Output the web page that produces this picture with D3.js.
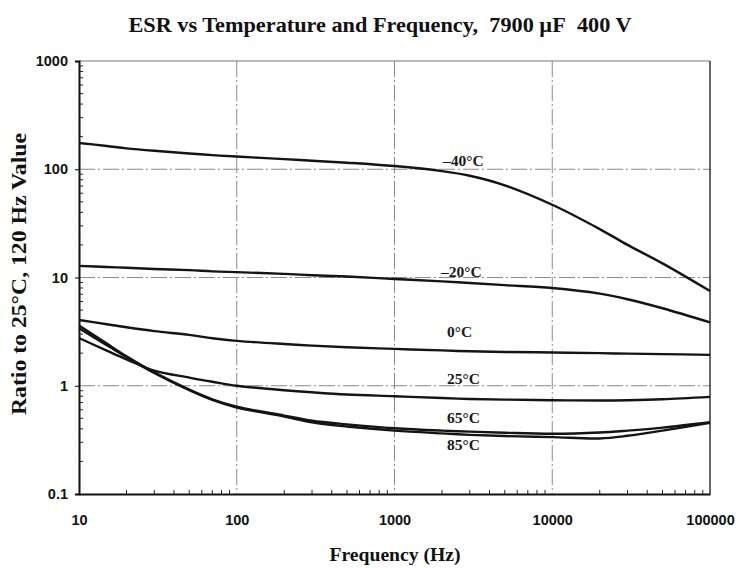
<!DOCTYPE html>
<html>
<head>
<meta charset="utf-8">
<script src="https://cdnjs.cloudflare.com/ajax/libs/d3/7.8.5/d3.min.js"></script>
<style>
body { margin: 0; background: #fff; }
svg { display: block; }
.serif { font-family: "Liberation Serif", "Times New Roman", serif; font-weight: bold; }
.tick-lbl { font-family: "Liberation Sans", Arial, sans-serif; font-weight: bold; font-size: 14.5px; }
</style>
</head>
<body>
<div id="chart"></div>
<script>
// frequencies (Hz)
var freqs = [10, 15, 20, 30, 50, 70, 100, 200, 300, 500, 1000, 2000, 3000, 5000, 10000, 20000, 30000, 50000, 100000];

// ratio to 25°C, 120 Hz value, one array per temperature
var m40 = [175, 164, 156, 148, 140, 135, 131, 124, 120, 115, 107, 96, 87, 71, 47, 28, 20, 13.5, 7.5];
var m20 = [12.8, 12.5, 12.3, 12.0, 11.7, 11.4, 11.2, 10.8, 10.5, 10.2, 9.7, 9.2, 8.9, 8.5, 8.0, 7.1, 6.3, 5.2, 3.85];
var t0  = [4.05, 3.7, 3.47, 3.2, 2.95, 2.75, 2.6, 2.43, 2.35, 2.27, 2.19, 2.12, 2.08, 2.05, 2.03, 2.0, 1.98, 1.96, 1.93];
var t25 = [2.76, 2.11, 1.75, 1.38, 1.19, 1.09, 1.0, 0.91, 0.87, 0.83, 0.8, 0.77, 0.755, 0.745, 0.735, 0.73, 0.735, 0.75, 0.79];
var t65 = [3.6, 2.45, 1.87, 1.33, 0.92, 0.75, 0.64, 0.53, 0.475, 0.44, 0.405, 0.385, 0.377, 0.368, 0.36, 0.37, 0.385, 0.41, 0.46];
var t85 = [3.4, 2.37, 1.84, 1.31, 0.91, 0.74, 0.63, 0.52, 0.46, 0.42, 0.385, 0.363, 0.352, 0.343, 0.335, 0.326, 0.345, 0.385, 0.455];

var seriesNames = ["\u201340\u00b0C", "\u201320\u00b0C", "0\u00b0C", "25\u00b0C", "65\u00b0C", "85\u00b0C"];
var seriesVals = [m40, m20, t0, t25, t65, t85];

var xTicks = [10, 100, 1000, 10000, 100000];
var yTicks = [0.1, 1, 10, 100, 1000];

var W = 736, H = 568;
var margin = {left: 79, right: 26, top: 61, bottom: 74};

var svg = d3.select("#chart").append("svg")
    .attr("width", W)
    .attr("height", H);

var x = d3.scaleLog().domain([10, 100000]).range([margin.left, W - margin.right]);
var y = d3.scaleLog().domain([0.1, 1000]).range([H - margin.bottom, margin.top]);

// minor tick values 2..9 in each decade
function minors(lo, hi) {
    var out = [];
    for (var d = lo; d < hi; d *= 10) {
        for (var k = 2; k <= 9; k++) out.push(d * k);
    }
    return out;
}

// grid lines (dash-dot)
var grid = svg.append("g").attr("stroke", "#8a8a8a").attr("stroke-width", 1)
    .attr("stroke-dasharray", "16,3,2,3");
grid.selectAll("line.vg")
    .data(xTicks.slice(1, -1))
    .enter().append("line")
    .attr("x1", function(d) { return x(d); })
    .attr("x2", function(d) { return x(d); })
    .attr("y1", y(1000))
    .attr("y2", y(0.1));
grid.selectAll("line.hg")
    .data(yTicks.slice(1, -1))
    .enter().append("line")
    .attr("y1", function(d) { return y(d); })
    .attr("y2", function(d) { return y(d); })
    .attr("x1", x(10))
    .attr("x2", x(100000));

// frame: top and right lighter, left and bottom axes dark
svg.append("line").attr("x1", x(10)).attr("x2", x(100000)).attr("y1", y(1000)).attr("y2", y(1000))
    .attr("stroke", "#777").attr("stroke-width", 1);
svg.append("line").attr("x1", x(100000)).attr("x2", x(100000)).attr("y1", y(1000)).attr("y2", y(0.1))
    .attr("stroke", "#333").attr("stroke-width", 1.5);

var yAxis = d3.axisLeft(y).tickValues(yTicks).tickSize(4).tickFormat(d3.format("~g"));
var xAxis = d3.axisBottom(x).tickValues(xTicks).tickSize(0).tickFormat(d3.format("~g"));

var gy = svg.append("g").attr("transform", "translate(" + x(10) + ",0)").call(yAxis);
gy.select(".domain").attr("stroke", "#111").attr("stroke-width", 2);
gy.selectAll("text").attr("class", "tick-lbl").attr("x", -11).attr("fill", "#111");

var gx = svg.append("g").attr("transform", "translate(0," + y(0.1) + ")").call(xAxis);
gx.select(".domain").attr("stroke", "#111").attr("stroke-width", 2);
gx.selectAll("text").attr("class", "tick-lbl").attr("y", 21).attr("fill", "#111");

// minor ticks pointing into the plot
svg.append("g").selectAll("line")
    .data(minors(0.1, 1000))
    .enter().append("line")
    .attr("x1", x(10)).attr("x2", x(10) + 4)
    .attr("y1", function(d) { return y(d); })
    .attr("y2", function(d) { return y(d); })
    .attr("stroke", "#222").attr("stroke-width", 1);
svg.append("g").selectAll("line")
    .data(minors(10, 100000))
    .enter().append("line")
    .attr("y1", y(0.1)).attr("y2", y(0.1) - 4)
    .attr("x1", function(d) { return x(d); })
    .attr("x2", function(d) { return x(d); })
    .attr("stroke", "#222").attr("stroke-width", 1);

// curves
var line = d3.line()
    .x(function(d) { return x(d[0]); })
    .y(function(d) { return y(d[1]); })
    .curve(d3.curveCatmullRom.alpha(0.5));

svg.append("g").selectAll("path")
    .data(seriesVals)
    .enter().append("path")
    .attr("d", function(vals) {
        return line(freqs.map(function(f, i) { return [f, vals[i]]; }));
    })
    .attr("fill", "none")
    .attr("stroke", "#141414")
    .attr("stroke-width", 2.4);

// curve labels
var lblPos = [[443, 166], [441, 277], [447, 337], [447, 384], [447, 423], [447, 450]];
svg.append("g").selectAll("text")
    .data(seriesNames)
    .enter().append("text")
    .attr("class", "serif")
    .attr("font-size", 15.5)
    .attr("x", function(d, i) { return lblPos[i][0]; })
    .attr("y", function(d, i) { return lblPos[i][1]; })
    .attr("fill", "#1a1a1a")
    .text(function(d) { return d; });

// title and axis titles
svg.append("text")
    .attr("class", "serif")
    .attr("x", 380).attr("y", 32)
    .attr("text-anchor", "middle")
    .attr("font-size", 22)
    .attr("textLength", 503)
    .attr("lengthAdjust", "spacingAndGlyphs")
    .attr("fill", "#111")
    .text("ESR vs Temperature and Frequency,\u00a0\u00a07900 \u00b5F\u00a0\u00a0400 V");

svg.append("text")
    .attr("class", "serif")
    .attr("x", 395).attr("y", 561)
    .attr("text-anchor", "middle")
    .attr("font-size", 19)
    .attr("textLength", 131)
    .attr("lengthAdjust", "spacingAndGlyphs")
    .attr("fill", "#111")
    .text("Frequency (Hz)");

svg.append("text")
    .attr("class", "serif")
    .attr("transform", "translate(26,274) rotate(-90)")
    .attr("text-anchor", "middle")
    .attr("font-size", 20)
    .attr("textLength", 282)
    .attr("lengthAdjust", "spacingAndGlyphs")
    .attr("fill", "#111")
    .text("Ratio to 25\u00b0C, 120 Hz Value");
</script>
</body>
</html>
